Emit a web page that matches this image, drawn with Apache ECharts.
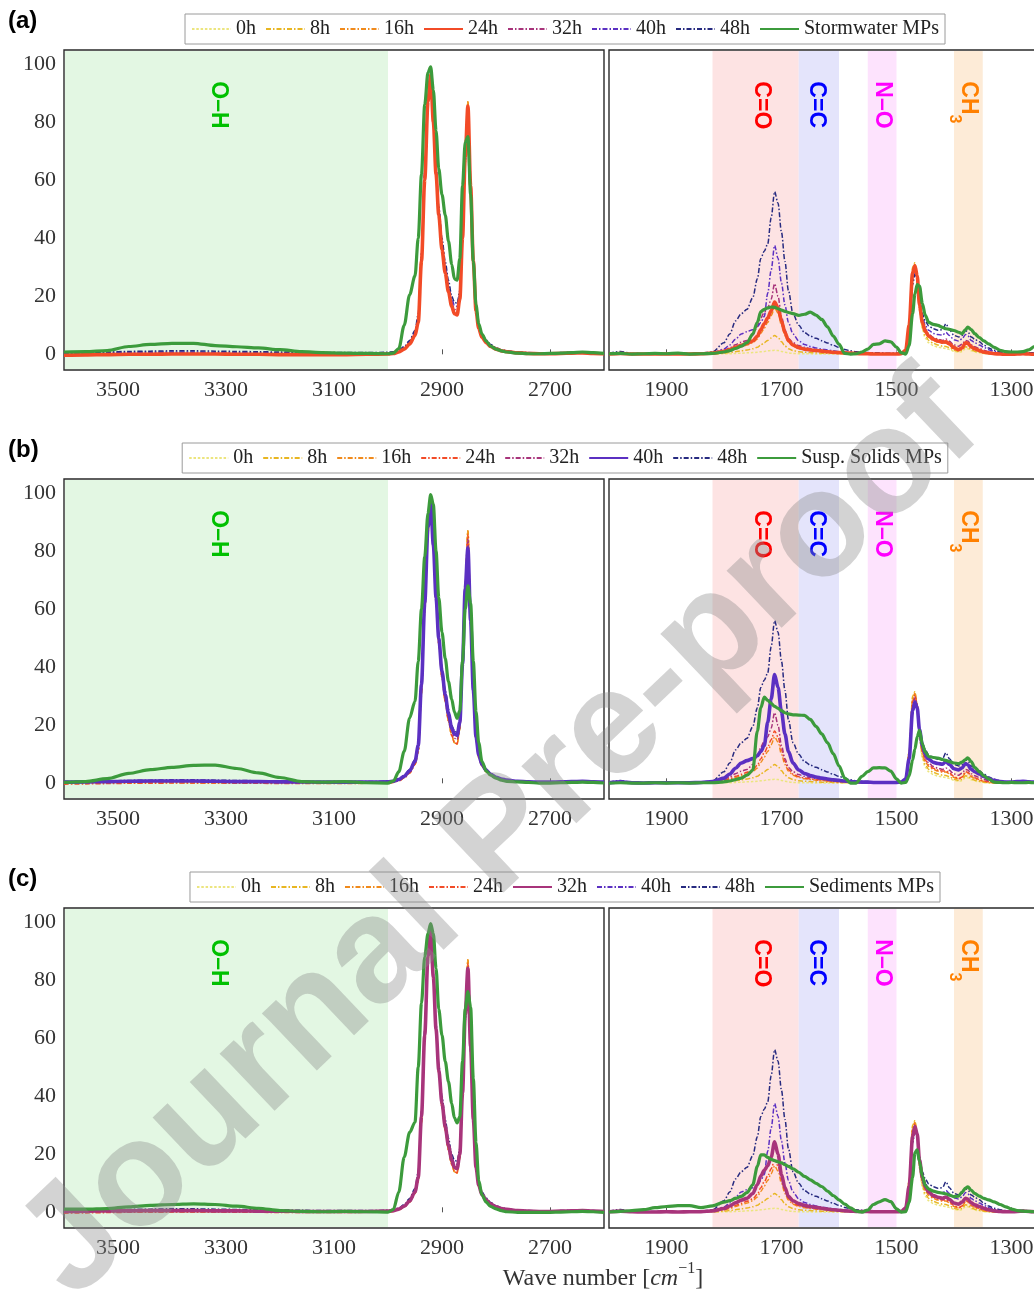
<!DOCTYPE html>
<html>
<head>
<meta charset="utf-8">
<script src="https://cdn.jsdelivr.net/npm/echarts@6/dist/echarts.min.js"></script>
<style>
  html, body { margin: 0; padding: 0; overflow: hidden; background: #fff; }
  #chart { width: 1130px; height: 1289px; }
</style>
</head>
<body>
<div id="chart"></div>
<script>
// ---------- data ----------
// wavenumber grids (cm^-1) of the two spectral windows
const wnHigh = [3600,3560,3520,3480,3440,3400,3360,3320,3280,3240,3200,3160,3120,3080,3040,3000,
  2990,2980,2970,2960,2950,2944,2938,2932,2926,2921,2916,2911,2906,2900,
  2894,2888,2882,2877,2872,2867,2862,2857,2852,2847,2842,2837,2832,2826,2818,2810,2800,2790,2780,
  2760,2740,2720,2700,2680,2660,2640,2620,2600];
const wnLow = [2000,1980,1960,1940,1920,1900,1880,1860,1840,1820,
  1800,1790,1780,1770,1760,1750,1742,1736,1730,1724,
  1718,1712,1706,1700,1694,1688,1680,1670,1660,1650,
  1640,1630,1620,1610,1600,1590,1580,1570,1560,1550,
  1540,1530,1520,1510,1500,1492,1484,1478,1472,1468,
  1464,1460,1455,1450,1444,1436,1428,1420,1414,1408,
  1400,1392,1386,1380,1376,1370,1364,1356,1348,1340,
  1330,1320,1310,1300,1290,1280,1270,1260,1250,1240,
  1230,1220,1210,1200];

// exposure times of the aged reference polymer
const hourLabels = ['0h', '8h', '16h', '24h', '32h', '40h', '48h'];

// normalised absorbance, 3600-2600 cm^-1
const h0High = [0.2,0.2,0.3,0.3,0.3,0.3,0.3,0.2,0.2,0.2,0.1,0.1,0.1,0.1,0.1,0.2,
  0.4,0.9,1.9,3.6,6.4,10.5,30,58,86,97,81,63,49,37,
  28.5,21.5,16.5,14,13.5,18.5,39,68,87,59,32,15,8.8,5.8,3.9,2.6,1.7,1.2,0.9,
  0.5,0.3,0.2,0.2,0.3,0.4,0.5,0.3,0.2];
const h8High = [0.1,0.2,0.2,0.3,0.3,0.3,0.2,0.2,0.2,0.1,0.1,0.1,0.0,0.0,0.1,0.2,
  0.4,0.9,1.9,3.6,6.5,10.8,31,59,86,97,81,63,49,37,
  28.5,21.5,16.5,14,13.5,18.5,39,68,87,59,32,15,8.8,5.8,3.9,2.6,1.7,1.2,0.9,
  0.5,0.3,0.2,0.2,0.3,0.4,0.5,0.3,0.2];
const h16High = [0.0,0.1,0.2,0.2,0.3,0.3,0.2,0.2,0.1,0.1,0.0,0.0,0.0,0.0,0.1,0.2,
  0.4,0.9,1.9,3.6,6.5,11,31,60,87,97,80,62,48,36.5,
  28,21.5,16.5,14,13.6,18.8,40,69,87,58,32,15,8.9,5.9,4,2.7,1.8,1.2,0.9,
  0.5,0.3,0.2,0.2,0.3,0.4,0.5,0.3,0.2];
const h24High = [-0.3,-0.2,-0.1,0.0,0.0,0.1,0.1,0.1,0.0,0.0,-0.1,-0.1,-0.1,-0.1,0.0,0.1,
  0.3,0.8,1.8,3.5,6.5,11,32,60,87,96,80,62,48,36,
  28,21.5,16.5,14,13.6,19,40,68,85.5,58,32,15,9,5.9,4,2.7,1.8,1.2,0.9,
  0.5,0.3,0.2,0.2,0.3,0.4,0.5,0.3,0.2];
const h32High = [0.3,0.4,0.5,0.5,0.6,0.6,0.6,0.5,0.5,0.4,0.4,0.3,0.3,0.3,0.3,0.4,
  0.6,1.1,2.1,3.9,7,12,33,61,88,96.5,81,63,49,37.5,
  29.5,23,18,15.5,15,20,41,68,84,57,32,15.5,9.3,6.1,4.2,2.9,1.9,1.3,1.0,
  0.6,0.4,0.3,0.3,0.4,0.5,0.6,0.4,0.3];
const h40High = [0.4,0.5,0.6,0.7,0.8,0.8,0.8,0.7,0.6,0.6,0.5,0.5,0.4,0.4,0.4,0.5,
  0.7,1.3,2.4,4.3,7.6,13,34,62,88,97,82,64,50,38.5,
  30.5,24,19,17,16.5,21,41,67,81,56,32,16,9.8,6.5,4.5,3.1,2.1,1.5,1.1,
  0.7,0.5,0.4,0.4,0.5,0.6,0.7,0.5,0.4];
const h48High = [0.6,0.7,0.8,1.0,1.1,1.2,1.2,1.1,1.0,0.9,0.8,0.7,0.6,0.6,0.6,0.7,
  0.9,1.5,2.7,4.8,8.2,14,35,63,88,96,82,65,51,40,
  32,25.5,20,18,17.5,22,41,66,79,55,32,16.5,10.3,7,4.9,3.4,2.3,1.6,1.2,
  0.8,0.6,0.5,0.5,0.6,0.7,0.8,0.6,0.4];

// normalised absorbance, 2000-1200 cm^-1
const h0Low = [0.1,0.2,0.1,0.1,0.1,0.1,0.1,0.1,0.1,0.1,
  0.2,0.2,0.3,0.4,0.5,0.6,0.7,0.9,1.0,1.2,
  1.3,1.4,1.3,1.0,0.7,0.5,0.3,0.2,0.2,0.2,
  0.1,0.1,0.1,0.1,0.1,0.1,0.1,0.1,0.1,0.1,
  0.1,0.1,0.1,0.1,0.1,0.2,1.5,10.5,29,31,
  26,15,8.5,5.5,4.0,3.0,2.5,2.2,2.0,1.7,
  1.0,0.7,0.9,2.0,1.9,1.2,0.8,0.5,0.3,0.1,
  0.1,0.1,0.1,0.1,0.1,0.1,0.1,0.1,0.1,0.1,
  0.1,0.1,0.1,0.1];
const h8Low = [0.1,0.2,0.1,0.1,0.1,0.1,0.1,0.1,0.1,0.2,
  0.4,0.6,0.9,1.2,1.5,1.9,2.4,3.2,4.0,4.8,
  5.6,6.5,5.8,4.3,2.9,1.9,1.3,0.9,0.7,0.6,
  0.5,0.4,0.4,0.3,0.3,0.2,0.2,0.2,0.1,0.1,
  0.1,0.1,0.1,0.1,0.1,0.2,1.6,11,30,31.5,
  27,16,9.5,6.5,4.8,3.8,3.2,2.8,2.7,2.3,
  1.4,1.0,1.3,2.6,2.4,1.6,1.1,0.7,0.4,0.2,
  0.1,0.1,0.1,0.1,0.1,0.2,0.1,0.1,0.1,0.1,
  0.1,0.1,0.1,0.1];
const h16Low = [0.1,0.3,0.1,0.1,0.1,0.1,0.1,0.1,0.1,0.3,
  0.8,1.3,2.0,2.6,3.2,4.0,5.3,7.2,9,11,
  13.3,16,14.2,10,6.5,4.2,2.8,2.0,1.6,1.3,
  1.1,0.9,0.8,0.6,0.5,0.4,0.3,0.2,0.2,0.2,
  0.1,0.1,0.1,0.1,0.1,0.2,1.6,10.5,29,31,
  27,16.5,10.5,7.5,5.8,4.8,4.2,3.8,3.9,3.3,
  2.0,1.5,2.0,3.6,3.4,2.3,1.7,1.1,0.7,0.4,
  0.2,0.1,0.1,0.1,0.1,0.2,0.1,0.1,0.1,0.1,
  0.1,0.1,0.1,0.1];
const h24Low = [0.1,0.3,0.1,0.1,0.1,0.1,0.1,0.1,0.2,0.4,
  1.0,1.6,2.4,3.1,3.8,4.6,6.2,8.5,10.5,12.5,
  15,18,16,11.5,7.5,4.8,3.2,2.3,1.8,1.5,
  1.3,1.1,0.9,0.7,0.6,0.5,0.4,0.3,0.2,0.2,
  0.1,0.1,0.1,0.1,0.1,0.2,1.5,10,28,30.5,
  27,17,11,8,6.3,5.2,4.6,4.2,4.3,3.6,
  2.3,1.6,2.2,4.0,3.8,2.6,1.9,1.3,0.8,0.5,
  0.2,0.1,0.0,0.0,0.1,0.2,0.1,0.0,0.0,0.0,
  0.0,0.0,0.0,0.0];
const h32Low = [0.2,0.4,0.2,0.1,0.1,0.2,0.1,0.2,0.2,0.5,
  1.3,2.2,3.3,4.2,4.8,6.5,9.5,12.5,14.5,16,
  19,24.3,20,13,8.5,5.5,4,3,2.4,2,
  1.7,1.4,1.1,0.9,0.7,0.5,0.4,0.3,0.3,0.3,
  0.2,0.2,0.2,0.2,0.2,0.3,1.5,9,26,29.5,
  27,18,12,8.8,7,5.8,5.2,4.8,5.3,4.5,
  3.2,2.8,3.5,4.8,4.6,3.3,2.6,2.0,1.4,0.9,
  0.5,0.3,0.2,0.2,0.3,0.4,0.3,0.2,0.1,0.1,
  0.1,0.1,0.1,0.1];
const h40Low = [0.2,0.5,0.2,0.1,0.2,0.2,0.2,0.2,0.3,0.6,
  1.8,3.2,5.2,7,7.8,8.5,9.5,11,13,21,
  29,37.5,33,24.5,17,11,7,4.6,3.4,2.7,
  2.2,1.8,1.5,1.2,1.0,0.8,0.6,0.5,0.4,0.4,
  0.3,0.3,0.3,0.3,0.3,0.4,1.5,8.5,25,28,
  26,18.5,13,10,8.3,7.2,6.8,6.6,7.5,6.5,
  5.0,4.6,5.3,6.8,6.4,4.8,4.0,3.2,2.4,1.6,
  1.0,0.6,0.4,0.4,0.6,0.7,0.5,0.4,0.3,0.3,
  0.3,0.2,0.2,0.2];
const h48Low = [0.3,1.0,0.3,0.2,0.3,0.3,0.2,0.3,0.4,0.8,
  4,7,11.5,14,15.5,19.5,26,33,35.5,38,
  47,56,52,42,32,22,14,10,7.5,6.3,
  5.5,4.7,3.9,3.1,2.4,1.7,1.2,0.9,0.7,0.6,
  0.5,0.5,0.4,0.4,0.4,0.5,1.5,8,24,27.5,
  26,19,14,11.5,9.8,8.8,8.3,8.5,10.5,8.5,
  6.5,6.0,6.5,8.2,7.8,6.0,5.2,4.3,3.2,2.2,
  1.4,0.9,0.6,0.5,0.4,0.4,0.5,0.5,0.5,0.6,
  0.5,0.4,0.4,0.4];

// environmental microplastic samples
const sampleNames = ['Stormwater MPs', 'Susp. Solids MPs', 'Sediments MPs'];
const stormHigh = [0.8,0.9,1.3,2.7,3.4,3.8,3.8,3.0,2.6,2.2,1.6,0.9,0.6,0.4,0.3,0.2,
  0.4,2,10,20.5,27,40,62,86,97,99,91,77,64,55,
  48,39,31,26,25.5,33,58,73,75,55,32,17,10.5,7,4.5,2.8,1.8,1.2,0.8,
  0.4,0.2,0.2,0.3,0.4,0.6,0.8,0.6,0.3];
const suspHigh = [0.3,0.6,1.6,3.4,4.7,5.5,6.2,6.3,5.1,3.6,2.0,0.6,0.4,0.6,0.2,0.1,
  0.8,4,11,22.5,28.2,42,60,78,93,99.4,96,80,64,52,
  43,35,29,24.5,22.4,25,42,60,68,62,42,24.7,14,7.5,4.2,2.8,1.8,1.1,0.7,
  0.5,0.3,0.1,0.1,0.2,0.3,0.4,0.3,0.1];
const sedHigh = [1.1,1.1,1.3,1.9,2.4,2.7,2.9,2.7,2.1,1.4,0.6,0.3,0.2,0.3,0.2,0.1,
  1.0,7,19,27.5,31,50,72,88,96,99.4,96,84,70,61,
  52,45,37.5,32.5,30.8,33,52,70,76,70.7,46,24,11,6,3.5,2.0,1.2,0.6,0.2,
  0.0,0.0,0.0,0.0,0.1,0.2,0.3,0.2,0.0];
const stormLow = [0.2,0.3,0.1,0.2,0.3,0.2,0.4,0.1,0.2,0.3,
  0.8,1.3,2.0,2.8,4.0,7.0,11,14.7,15.5,16,
  16.3,16.2,15.7,15.2,14.8,14.4,14,13.4,13.8,14.5,
  13.5,12,9.5,6.3,3.5,0.3,0.1,0.2,0.8,1.8,
  3.4,3.6,4.6,4.3,2.5,0.6,0.1,3.0,14,20.8,
  24,23.5,17.5,13.5,11,10.3,10,9.3,8.8,8.6,
  8.2,7.6,7.1,8.5,9.4,8.5,7.1,5.8,4.6,3.6,
  2.4,1.4,0.9,0.8,0.8,0.9,1.5,2.7,4.0,4.6,
  4.2,3.5,2.8,2.2];
const suspLow = [0.1,0.2,0.1,0.1,0.2,0.1,0.2,0.1,0.2,0.2,
  0.5,0.8,1.3,1.8,2.8,4.5,18,26,29.7,28.6,
  27.5,26.5,25.8,25,24.3,23.9,23.6,23.5,23.4,22,
  19.6,17,14,10.2,6,1.8,0.1,0.1,2.4,4.0,
  5.3,5.4,5.3,4.2,1.5,0.1,0.3,2.5,8,11.8,
  16,18.2,13.5,10.8,9.2,8.9,8.7,8.2,7.9,7.5,
  7.0,6.8,7.3,8.2,8.8,7.5,5.5,4.0,2.6,1.5,
  0.4,0.3,0.2,0.3,0.2,0.2,0.3,0.2,0.3,0.4,
  0.3,0.2,0.3,0.2];
const sedLow = [0.1,0.3,0.6,0.9,1.6,2.0,2.3,2.3,1.6,2.2,
  3.5,4.0,4.8,5.5,6.8,9.5,15.8,19.8,19.8,18.9,
  18.2,17.8,17.4,17.0,16.4,15.8,15.0,13.8,12.4,11.2,
  10.0,8.9,7.3,5.8,4.3,2.8,1.5,0.4,0.1,0.8,
  2.7,3.6,4.4,3.7,1.2,0.1,0.2,3.5,12,20.5,
  21.5,17.5,12.5,9.3,8.0,7.3,6.9,6.6,6.4,5.9,
  5.4,5.6,7.0,8.3,8.8,7.6,6.5,5.6,4.8,4.3,
  3.6,2.7,1.9,1.1,0.6,0.4,0.3,0.2,0.3,0.4,
  0.3,0.3,0.2,0.2];

// exposure time whose spectrum is closest to each sample
const closestHour = ['24h', '40h', '32h'];
const panelTags = ['(a)', '(b)', '(c)'];

// axis ticks
const highTicks = [3500, 3300, 3100, 2900, 2700];
const lowTicks = [1900, 1700, 1500, 1300];
const yTicks = [0, 20, 40, 60, 80, 100];

// functional-group bands (cm^-1)
const highBands = [{ label: 'O–H', from: 3600, to: 3000, labelAt: 3315 }];
const lowBands = [
  { label: 'C=O', from: 1820, to: 1670, labelAt: 1735 },
  { label: 'C=C', from: 1670, to: 1600, labelAt: 1640 },
  { label: 'N–O', from: 1550, to: 1500, labelAt: 1525 },
  { label: 'CH3', from: 1400, to: 1350, labelAt: 1384 }
];
const axisTitle = '{t|Wave number [}{i|cm}{u|−1}{t|]}';

// ---------- styles & layout ----------
const hourData = {
  high: [h0High, h8High, h16High, h24High, h32High, h40High, h48High],
  low: [h0Low, h8Low, h16Low, h24Low, h32Low, h40Low, h48Low]
};
const sampleData = {
  high: [stormHigh, suspHigh, sedHigh],
  low: [stormLow, suspLow, sedLow]
};
const hourColors = ['#ece57f', '#e8b622', '#f08a1c', '#f24b27', '#a8347b', '#5b30c2', '#272b80'];
const hourDash = [[2.5, 1.8], [5, 2, 1.5, 2], [5, 2, 1.5, 2], [5, 2, 1.5, 2], [5, 2, 1.5, 2], [5, 2, 1.5, 2], [5, 2, 1.5, 2]];
const sampleColor = '#3c9b3c';
const bandStyle = {
  'O–H': { fill: '#e3f7e3', color: '#00c000' },
  'C=O': { fill: '#fde3e3', color: '#ff0000' },
  'C=C': { fill: '#e4e4fb', color: '#0000ff' },
  'N–O': { fill: '#fde3fd', color: '#ff00ff' },
  'CH3': { fill: '#fdebd7', color: '#ff8000' }
};
const SERIF = '"Liberation Serif", "Times New Roman", serif';
const SANS = '"Liberation Sans", Arial, sans-serif';

const ROW = 429, TOP0 = 50, PH = 320;
const LX = 64, LW = 540, RX = 609, RW = 460;
const YMIN = -5.4, YMAX = 104.8, LABEL_TOP = 94;

const pair = (xs, ys) => xs.map((x, i) => [x, ys[i]]);

function bandSeries(bands, axisIdx) {
  return {
    type: 'custom', xAxisIndex: axisIdx, yAxisIndex: axisIdx, z: 1, silent: true,
    encode: { x: [0, 1, 2] },
    data: bands.map(b => [b.from, b.to, b.labelAt]),
    renderItem(params, api) {
      const cs = params.coordSys;
      const b = bands[params.dataIndex];
      const st = bandStyle[b.label];
      const p = api.coord([api.value(0), 0]);
      const q = api.coord([api.value(1), 0]);
      const x0 = Math.max(Math.min(p[0], q[0]), cs.x + 1);
      const x1 = Math.min(Math.max(p[0], q[0]), cs.x + cs.width - 1);
      const lp = api.coord([api.value(2), LABEL_TOP]);
      const m = b.label.match(/^(.*?)(\d+)$/);
      const text = m ? '{m|' + m[1] + '}{s|' + m[2] + '}' : '{m|' + b.label + '}';
      return {
        type: 'group',
        children: [
          { type: 'rect', shape: { x: x0, y: cs.y + 1, width: x1 - x0, height: cs.height - 2 }, style: { fill: st.fill } },
          {
            type: 'text', x: lp[0], y: lp[1], rotation: -Math.PI / 2,
            style: {
              text: text, align: 'left', verticalAlign: 'middle',
              rich: {
                m: { fontFamily: SANS, fontWeight: 'bold', fontSize: 23, lineHeight: 23, verticalAlign: 'top', fill: st.color },
                s: { fontFamily: SANS, fontWeight: 'bold', fontSize: 16, lineHeight: 34, verticalAlign: 'bottom', fill: st.color }
              }
            }
          }
        ]
      };
    }
  };
}

const grid = [], xAxis = [], yAxis = [], series = [], legend = [], graphic = [];
const tickLabel = { margin: 9, color: '#333', fontFamily: SERIF, fontSize: 22, formatter: v => String(v) };

panelTags.forEach((tag, r) => {
  const top = TOP0 + r * ROW;
  [[LX, LW], [RX, RW]].forEach(([left, width], k) => {
    grid.push({
      left, top, width, height: PH, show: true, borderColor: '#2a2a2a', borderWidth: 1.4,
      backgroundColor: 'transparent', containLabel: false, outerBoundsMode: 'none'
    });
    const ticks = k === 0 ? highTicks : lowTicks;
    xAxis.push({
      gridIndex: 2 * r + k, type: 'value', inverse: true,
      min: k === 0 ? 2600 : 1200, max: k === 0 ? 3600 : 2000,
      axisLine: { show: false }, splitLine: { show: false },
      axisTick: { show: true, inside: true, length: 5, customValues: ticks, lineStyle: { color: '#555', width: 1 } },
      axisLabel: Object.assign({ customValues: ticks }, tickLabel)
    });
    yAxis.push({
      gridIndex: 2 * r + k, type: 'value', min: YMIN, max: YMAX,
      axisLine: { show: false }, axisTick: { show: false }, splitLine: { show: false },
      axisLabel: k === 0 ? Object.assign({ customValues: yTicks }, tickLabel, { margin: 8 }) : { show: false }
    });
  });

  series.push(bandSeries(highBands, 2 * r));
  series.push(bandSeries(lowBands, 2 * r + 1));

  const names = [];
  hourLabels.forEach((h, i) => {
    const name = r + ':' + h;
    names.push(name);
    const hl = h === closestHour[r];
    const base = {
      type: 'line', name, symbol: 'none', showSymbol: false, smooth: 0.3, smoothMonotone: 'x',
      silent: true, z: hl ? 3 : 2,
      itemStyle: { color: hourColors[i] },
      lineStyle: { color: hourColors[i], width: hl ? 3.6 : 1.5, type: hl ? 'solid' : hourDash[i] }
    };
    series.push(Object.assign({}, base, { xAxisIndex: 2 * r, yAxisIndex: 2 * r, data: pair(wnHigh, hourData.high[i]) }));
    series.push(Object.assign({}, base, { xAxisIndex: 2 * r + 1, yAxisIndex: 2 * r + 1, data: pair(wnLow, hourData.low[i]) }));
  });
  const sname = r + ':' + sampleNames[r];
  names.push(sname);
  const sbase = {
    type: 'line', name: sname, symbol: 'none', showSymbol: false, smooth: 0.3, smoothMonotone: 'x',
    silent: true, z: 4,
    itemStyle: { color: sampleColor },
    lineStyle: { color: sampleColor, width: 3.2, type: 'solid' }
  };
  series.push(Object.assign({}, sbase, { xAxisIndex: 2 * r, yAxisIndex: 2 * r, data: pair(wnHigh, sampleData.high[r]) }));
  series.push(Object.assign({}, sbase, { xAxisIndex: 2 * r + 1, yAxisIndex: 2 * r + 1, data: pair(wnLow, sampleData.low[r]) }));

  legend.push({
    top: 14 + r * ROW, left: 'center', data: names, selectedMode: false,
    formatter: n => n.slice(n.indexOf(':') + 1),
    itemWidth: 39, itemHeight: 12, itemGap: 9, padding: [5, 6],
    itemStyle: { opacity: 0 },
    borderColor: '#9a9a9a', borderWidth: 1, backgroundColor: '#fff',
    textStyle: { fontFamily: SERIF, fontSize: 20, color: '#222' }
  });

  graphic.push({
    type: 'text', x: 8, y: 9 + r * ROW,
    style: { text: tag, fontFamily: SANS, fontWeight: 'bold', fontSize: 24, fill: '#000', align: 'left', verticalAlign: 'top' }
  });
});

graphic.push({
  type: 'text', x: 603, y: 1276,
  style: {
    text: axisTitle, align: 'center', verticalAlign: 'middle',
    rich: {
      t: { fontFamily: SERIF, fontSize: 24, lineHeight: 30, verticalAlign: 'bottom', fill: '#333' },
      i: { fontFamily: SERIF, fontStyle: 'italic', fontSize: 24, lineHeight: 30, verticalAlign: 'bottom', fill: '#333' },
      u: { fontFamily: SERIF, fontSize: 16, lineHeight: 16, verticalAlign: 'top', fill: '#333' }
    }
  }
});

// publisher watermark
graphic.push({
  type: 'text', x: 501, y: 838, rotation: 43.6 * Math.PI / 180, z: 100, silent: true,
  style: {
    text: 'Journal Pre-proof', fontFamily: SANS, fontWeight: 'bold', fontSize: 150,
    fill: 'rgba(140,140,140,0.38)', align: 'center', verticalAlign: 'middle'
  }
});

const chart = echarts.init(document.getElementById('chart'), null, { renderer: 'canvas' });
chart.setOption({ animation: false, backgroundColor: '#fff', grid, xAxis, yAxis, series, legend, graphic });
</script>
</body>
</html>
